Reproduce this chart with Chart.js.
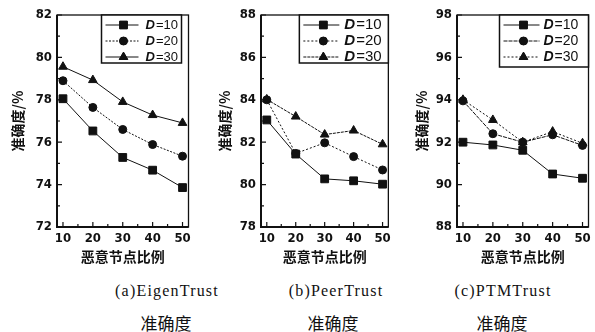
<!DOCTYPE html>
<html>
<head>
<meta charset="utf-8">
<script src="https://cdn.jsdelivr.net/npm/chart.js@4/dist/chart.umd.min.js"></script>
<style>
body{margin:0;background:#fff;width:595px;height:332px;position:relative;overflow:hidden}
.panel{position:absolute;top:0;height:270px}
.cap{position:absolute;transform:translateX(-50%);white-space:nowrap;color:#111}
.cap1{top:282px;font:16px "Liberation Serif",serif;letter-spacing:1.2px}
.cap2{top:310px;font:17px "Noto Sans CJK SC",sans-serif}
</style>
</head>
<body>
<div class="panel" style="left:0;width:195px"><canvas id="c1"></canvas></div>
<div class="panel" style="left:203px;width:192px"><canvas id="c2"></canvas></div>
<div class="panel" style="left:400px;width:195px"><canvas id="c3"></canvas></div>
<div class="cap cap1" style="left:167px">(a)EigenTrust</div>
<div class="cap cap2" style="left:166px">准确度</div>
<div class="cap cap1" style="left:336px">(b)PeerTrust</div>
<div class="cap cap2" style="left:333px">准确度</div>
<div class="cap cap1" style="left:503px">(c)PTMTrust</div>
<div class="cap cap2" style="left:502px">准确度</div>
<script>
// 恶意节点比例 (x) and the three D series for each trust model
const ratios = [10, 20, 30, 40, 50];
const seriesNames = ["10", "20", "30"];
const eigenD10 = [78.05, 76.53, 75.28, 74.68, 73.86];
const eigenD20 = [78.9, 77.64, 76.6, 75.89, 75.34];
const eigenD30 = [79.56, 78.93, 77.9, 77.28, 76.91];
const peerD10 = [83.05, 81.44, 80.27, 80.18, 80.02];
const peerD20 = [84.0, 81.47, 81.97, 81.32, 80.69];
const peerD30 = [84.02, 83.21, 82.36, 82.55, 81.9];
const ptmD10 = [92.0, 91.87, 91.62, 90.5, 90.3];
const ptmD20 = [93.95, 92.4, 92.0, 92.35, 91.85];
const ptmD30 = [94.0, 93.05, 92.0, 92.5, 91.95];
const eigenTicks = [72, 74, 76, 78, 80, 82];
const peerTicks = [78, 80, 82, 84, 86, 88];
const ptmTicks = [88, 90, 92, 94, 96, 98];

const INK = "#111";
const tickFont = {family: "'Liberation Sans Narrow','DejaVu Sans Condensed','Liberation Sans',sans-serif", size: 13, weight: "bold"};
const cjkFont = {family: "'Noto Sans CJK SC',sans-serif", size: 14, weight: "bold"};
const markers = ["rect", "circle", "triangle"];
const radii = [5.5, 4, 5];

// frame, inner tick marks and the boxed legend
const decor = {
    id: "decor",
    afterDatasetsDraw(chart, args, opts) {
        const ctx = chart.ctx;
        const a = chart.chartArea;
        const x = chart.scales.x, y = chart.scales.y;
        ctx.save();
        ctx.strokeStyle = INK;
        ctx.lineWidth = 1.3;
        ctx.strokeRect(a.left, a.top, a.right - a.left, a.bottom - a.top);
        ctx.lineWidth = 2;
        ctx.beginPath();
        ctx.moveTo(a.left, a.top); ctx.lineTo(a.left, a.bottom); ctx.lineTo(a.right, a.bottom);
        ctx.stroke();
        ctx.lineWidth = 1.2;
        ctx.beginPath();
        for (let v = y.min; v <= y.max; v += 1) {
            const py = y.getPixelForValue(v);
            const len = (v - y.min) % 2 === 0 ? 5 : 3;
            ctx.moveTo(a.left, py); ctx.lineTo(a.left + len, py);
        }
        for (let v = 10; v <= 50; v += 5) {
            const px = x.getPixelForValue(v);
            const len = v % 10 === 0 ? 5 : 3;
            ctx.moveTo(px, a.bottom); ctx.lineTo(px, a.bottom - len);
        }
        ctx.stroke();

        // legend
        const bx = a.right - opts.right - opts.width, by = a.top;
        ctx.fillStyle = "#fff";
        ctx.fillRect(bx, by, opts.width, opts.height);
        ctx.lineWidth = 1.5;
        ctx.strokeRect(bx, by, opts.width, opts.height);
        chart.data.datasets.forEach((ds, i) => {
            const ry = by + opts.row0 + i * opts.rowGap;
            ctx.lineWidth = 1;
            ctx.setLineDash(ds.borderDash || []);
            ctx.beginPath();
            ctx.moveTo(bx + 4, ry); ctx.lineTo(bx + opts.lineEnd, ry);
            ctx.stroke();
            ctx.setLineDash([]);
            ctx.fillStyle = INK;
            Chart.helpers.drawPoint(ctx, {pointStyle: ds.pointStyle, radius: ds.pointRadius, borderWidth: 1, rotation: 0}, bx + opts.marker, ry);
            ctx.fill();
            ctx.textBaseline = "middle";
            ctx.font = "italic bold " + opts.size + "px 'Liberation Sans',sans-serif";
            ctx.fillText("D", bx + opts.text, ry);
            const w = ctx.measureText("D").width;
            ctx.font = opts.size + "px 'Liberation Sans',sans-serif";
            ctx.fillText("=" + seriesNames[i], bx + opts.text + w + 1, ry);
        });
        ctx.restore();
    }
};

function makeChart(id, series, ticks, dashes, pad, yWidth, titlePad, legend) {
    const datasets = series.map((vals, i) => ({
        label: "D=" + seriesNames[i],
        data: ratios.map((r, k) => ({x: r, y: vals[k]})),
        borderColor: INK,
        backgroundColor: INK,
        borderWidth: 1,
        borderDash: dashes[i],
        pointStyle: markers[i],
        pointRadius: radii[i],
        pointBorderWidth: 1,
        tension: 0
    }));
    return new Chart(document.getElementById(id), {
        type: "line",
        data: {datasets: datasets},
        options: {
            responsive: true,
            maintainAspectRatio: false,
            animation: false,
            layout: {padding: {top: 15, right: pad, left: 0, bottom: 0}},
            plugins: {legend: {display: false}, tooltip: {enabled: false}, decor: legend},
            scales: {
                x: {
                    type: "linear", min: 8, max: 52,
                    afterBuildTicks: s => { s.ticks = ratios.map(v => ({value: v})); },
                    afterFit: s => { s.height = 43; },
                    grid: {display: false, drawTicks: false},
                    border: {display: false},
                    ticks: {font: tickFont, color: INK, padding: 4, maxRotation: 0},
                    title: {display: true, text: "恶意节点比例", font: cjkFont, color: INK, padding: {top: 0, bottom: 5}}
                },
                y: {
                    min: ticks[0], max: ticks[ticks.length - 1],
                    afterBuildTicks: s => { s.ticks = ticks.map(v => ({value: v})); },
                    afterFit: s => { s.width = yWidth; },
                    grid: {display: false, drawTicks: false},
                    border: {display: false},
                    ticks: {font: tickFont, color: INK, padding: 5},
                    title: {display: true, text: "准确度/%", font: cjkFont, color: INK, padding: {top: titlePad, bottom: 0}}
                }
            }
        },
        plugins: [decor]
    });
}

makeChart("c1", [eigenD10, eigenD20, eigenD30], eigenTicks,
    [[], [2, 1.5], []], 5, 57, 9,
    {right: 7, width: 80, height: 48, row0: 10, rowGap: 16, lineEnd: 37, marker: 22, text: 44, size: 13});
makeChart("c2", [peerD10, peerD20, peerD30], peerTicks,
    [[], [2, 2], [3, 1]], 4, 58, 13,
    {right: 0, width: 89, height: 48, row0: 10, rowGap: 16, lineEnd: 40, marker: 24, text: 45, size: 15});
makeChart("c3", [ptmD10, ptmD20, ptmD30], ptmTicks,
    [[], [4, 1], [2, 2]], 5, 57, 13,
    {right: 0, width: 89, height: 52, row0: 10, rowGap: 16, lineEnd: 40, marker: 24, text: 44, size: 14});
</script>
</body>
</html>
